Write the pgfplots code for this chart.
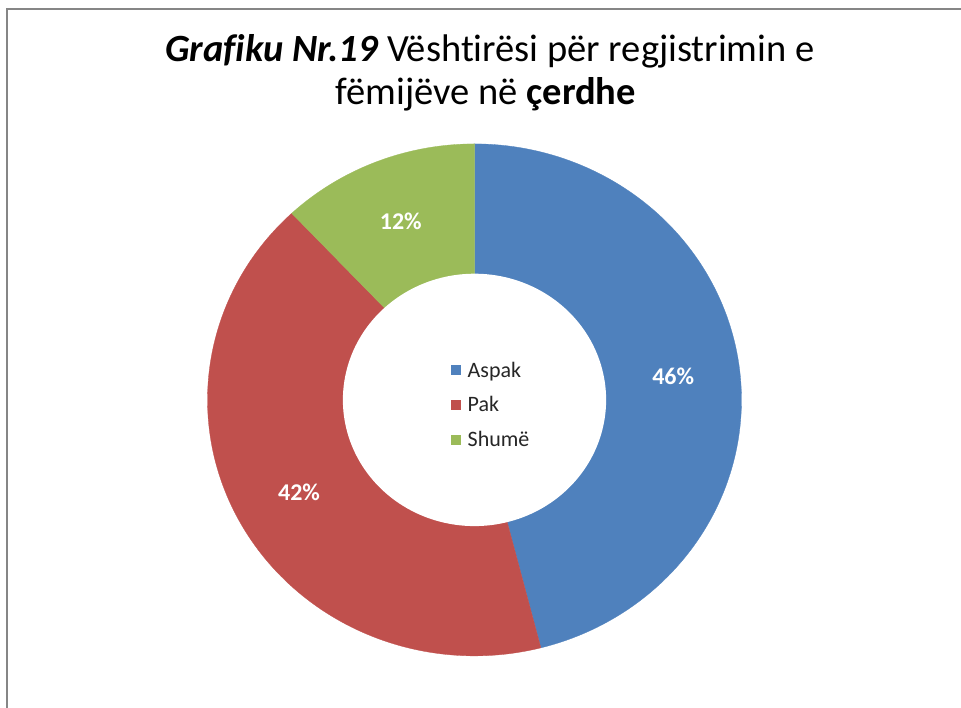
\documentclass[border=0pt]{standalone}
\usepackage{pgfplots}
\usepackage{pgfplotstable}
\pgfplotsset{compat=1.18}
\usepackage{fontspec}
\setmainfont[Ligatures=NoCommon]{Carlito}
\definecolor{cA}{HTML}{4F81BD}
\definecolor{cB}{HTML}{C0504D}
\definecolor{cC}{HTML}{9BBB59}
\definecolor{frame}{HTML}{868686}
\definecolor{legtext}{HTML}{262626}
\pgfplotstableread{
label value
Aspak 46
Pak 42
Shumë 12
}\data
\begin{document}
\begin{tikzpicture}[x=1pt,y=1pt]
\useasboundingbox (0,0) rectangle (961,708);
\clip (0,0) rectangle (961,708);
\fill[white] (0,0) rectangle (961,708);
\draw[frame, line width=2pt] (7,-20) rectangle (1000,699);
\node[anchor=base, font=\fontsize{38.5}{46}\selectfont] at (490,646)
  {\textbf{\textit{Grafiku Nr.19}} Vështirësi për regjistrimin e};
\node[anchor=base, font=\fontsize{38.5}{46}\selectfont] at (486,603)
  {fëmijëve në \textbf{çerdhe}};
\pgfplotstablegetelem{0}{value}\of\data \edef\va{\pgfplotsretval}
\pgfplotstablegetelem{1}{value}\of\data \edef\vb{\pgfplotsretval}
\pgfplotstablegetelem{2}{value}\of\data \edef\vc{\pgfplotsretval}
\pgfmathsetmacro\aO{90}
\pgfmathsetmacro\aA{90-3.6*\va}
\pgfmathsetmacro\aB{\aA-3.6*\vb}
\pgfmathsetmacro\aC{\aB-3.6*\vc}
\pgfmathsetmacro\mA{(\aO+\aA)/2}
\pgfmathsetmacro\mB{(\aA+\aB)/2}
\pgfmathsetmacro\mC{(\aB+\aC)/2}
\begin{axis}[
  at={(474.5pt,308.1pt)}, anchor=origin,
  x=267pt, y=256pt,
  xmin=-1.05, xmax=1.05, ymin=-1.05, ymax=1.05,
  hide axis, clip=false,
  legend style={at={(axis cs:0.062,-0.02)}, anchor=center, draw=none, fill=none,
    font=\fontsize{22}{26}\selectfont, text=legtext,
    row sep=14pt, inner sep=0pt},
  legend cell align=left,
  legend image code/.code={\path[draw=none,fill=none] (0pt,0pt) -- (15pt,0pt);\fill[#1,draw=none] (0pt,-5pt) rectangle (10pt,5pt);},
]
\addplot[fill=cA, draw=cA, line width=0.3pt, domain=\aA:\aO, samples=120, variable=\t]
  ({cos(t)},{sin(t)}) -- (axis cs:0,0) -- cycle;
\addlegendentry{Aspak}
\addplot[fill=cB, draw=cB, line width=0.3pt, domain=\aB:\aA, samples=120, variable=\t]
  ({cos(t)},{sin(t)}) -- (axis cs:0,0) -- cycle;
\addlegendentry{Pak}
\addplot[fill=cC, draw=cC, line width=0.3pt, domain=\aC:\aB, samples=60, variable=\t]
  ({cos(t)},{sin(t)}) -- (axis cs:0,0) -- cycle;
\addlegendentry{Shumë}
\addplot[forget plot, fill=white, draw=none, domain=0:360, samples=180, variable=\t]
  ({0.493*cos(t)},{0.493*sin(t)}) -- cycle;
\node[text=white, font=\bfseries\fontsize{24}{28}\selectfont] at (axis cs:{0.75*cos(\mA)},{0.75*sin(\mA)}) {\va\%};
\node[text=white, font=\bfseries\fontsize{24}{28}\selectfont] at (axis cs:{0.75*cos(\mB)},{0.75*sin(\mB)}) {\vb\%};
\node[text=white, font=\bfseries\fontsize{24}{28}\selectfont] at (axis cs:{0.75*cos(\mC)},{0.75*sin(\mC)}) {\vc\%};
\end{axis}
\end{tikzpicture}
\end{document}
